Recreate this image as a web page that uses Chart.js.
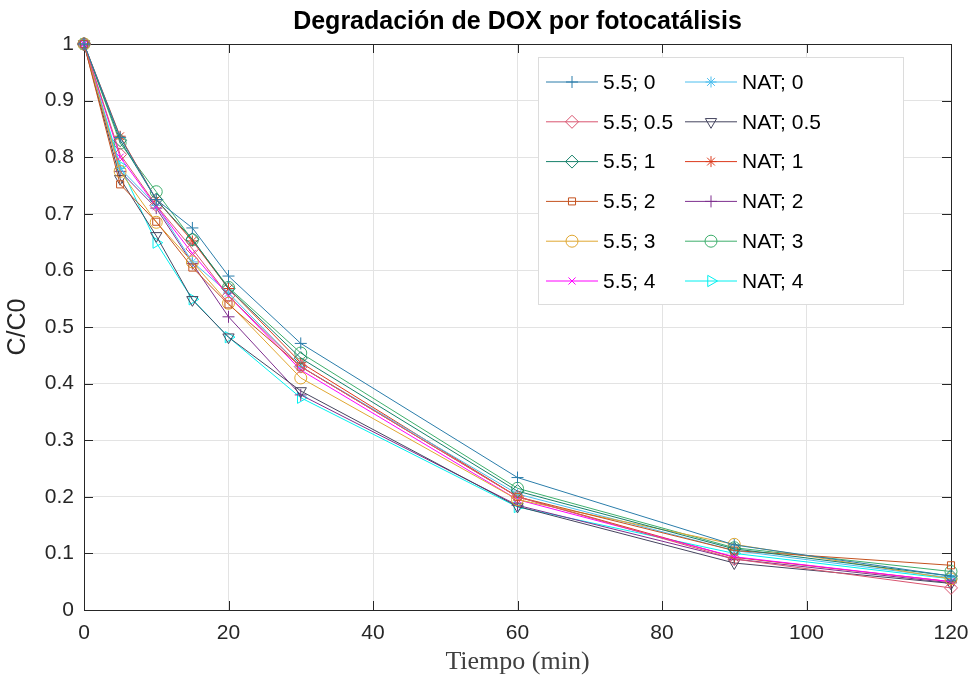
<!DOCTYPE html>
<html>
<head>
<meta charset="utf-8">
<script src="https://cdn.jsdelivr.net/npm/chart.js@4.4.1/dist/chart.umd.min.js"></script>
<style>
html,body{margin:0;padding:0;background:#fff;}
#wrap{width:970px;height:679px;}
</style>
</head>
<body>
<div id="wrap"><canvas id="c" width="970" height="679"></canvas></div>
<script>
const tiempo = [0, 5, 10, 15, 20, 30, 60, 90, 120];
const xTicks = [0, 20, 40, 60, 80, 100, 120];
const yTicks = [0, 0.1, 0.2, 0.3, 0.4, 0.5, 0.6, 0.7, 0.8, 0.9, 1];

const s55_0   = [1, 0.835, 0.725, 0.675, 0.590, 0.471, 0.234, 0.115, 0.060];
const s55_05  = [1, 0.805, 0.715, 0.638, 0.555, 0.430, 0.200, 0.090, 0.039];
const s55_1   = [1, 0.830, 0.725, 0.655, 0.568, 0.445, 0.210, 0.108, 0.060];
const s55_2   = [1, 0.752, 0.686, 0.605, 0.540, 0.430, 0.200, 0.105, 0.079];
const s55_3   = [1, 0.775, 0.685, 0.615, 0.542, 0.410, 0.195, 0.116, 0.055];
const s55_4   = [1, 0.800, 0.713, 0.630, 0.555, 0.424, 0.195, 0.094, 0.050];
const nat_0   = [1, 0.780, 0.715, 0.615, 0.560, 0.430, 0.205, 0.105, 0.057];
const nat_05  = [1, 0.762, 0.661, 0.548, 0.482, 0.387, 0.183, 0.083, 0.047];
const nat_1   = [1, 0.837, 0.725, 0.652, 0.568, 0.437, 0.200, 0.093, 0.050];
const nat_2   = [1, 0.775, 0.710, 0.612, 0.518, 0.380, 0.185, 0.090, 0.048];
const nat_3   = [1, 0.825, 0.739, 0.654, 0.570, 0.454, 0.215, 0.110, 0.068];
const nat_4   = [1, 0.785, 0.649, 0.549, 0.482, 0.375, 0.182, 0.100, 0.055];

const labels = ['5.5; 0','5.5; 0.5','5.5; 1','5.5; 2','5.5; 3','5.5; 4','NAT; 0','NAT; 0.5','NAT; 1','NAT; 2','NAT; 3','NAT; 4'];
const values = [s55_0, s55_05, s55_1, s55_2, s55_3, s55_4, nat_0, nat_05, nat_1, nat_2, nat_3, nat_4];
const colors = ['#2A7DAA','#D9546F','#17806A','#C4521F','#E0A731','#FF00FF','#4DBEEE','#45455F','#DC3A1C','#7E2F8E','#3DAE6C','#00F0F0'];
const styles = ['cross','rectRot','rectRot','rect','circle','crossRot','star','triangle','star','cross','circle','triangle'];
const rotations = [0,0,0,0,0,0,0,180,0,0,0,90];
const radii = [6,6.5,6.5,5,6,5,5.5,6.5,5.5,6,6,6.5];

const FONT = '"Liberation Sans", Arial, Helvetica, sans-serif';

const datasets = labels.map((lab, i) => ({
  label: lab,
  data: tiempo.map((t, j) => ({x: t, y: values[i][j]})),
  borderColor: colors[i],
  backgroundColor: colors[i],
  borderWidth: 1,
  pointStyle: styles[i],
  pointRotation: rotations[i],
  pointRadius: radii[i],
  pointHoverRadius: radii[i],
  pointBorderColor: colors[i],
  pointBackgroundColor: 'rgba(0,0,0,0)',
  pointBorderWidth: 1,
  fill: false,
  tension: 0,
  clip: false
}));

function drawMarker(ctx, style, rot, r, x, y) {
  if (Chart.helpers && Chart.helpers.drawPoint) {
    Chart.helpers.drawPoint(ctx, {pointStyle: style, rotation: rot, radius: r, borderWidth: 1}, x, y);
  } else {
    ctx.beginPath(); ctx.arc(x, y, r, 0, Math.PI*2); ctx.stroke();
  }
}

const boxPlugin = {
  id: 'boxPlugin',
  beforeDatasetsDraw(chart) {
    const {ctx, chartArea: a, scales} = chart;
    ctx.save();
    ctx.strokeStyle = '#262626';
    ctx.lineWidth = 1;
    ctx.strokeRect(Math.round(a.left)+0.5, Math.round(a.top)+0.5, Math.round(a.right-a.left), Math.round(a.bottom-a.top));
    const L = 9;
    ctx.beginPath();
    xTicks.forEach(v => {
      const px = Math.round(scales.x.getPixelForValue(v)) + 0.5;
      ctx.moveTo(px, a.bottom); ctx.lineTo(px, a.bottom - L);
      ctx.moveTo(px, a.top); ctx.lineTo(px, a.top + L);
    });
    yTicks.forEach(v => {
      const py = Math.round(scales.y.getPixelForValue(v)) + 0.5;
      ctx.moveTo(a.left, py); ctx.lineTo(a.left + L, py);
      ctx.moveTo(a.right, py); ctx.lineTo(a.right - L, py);
    });
    ctx.stroke();
    ctx.restore();
  },
  afterDraw(chart) {
    const ctx = chart.ctx;
    const bx = 538.5, by = 57.5, bw = 365, bh = 247;
    ctx.save();
    ctx.fillStyle = '#ffffff';
    ctx.fillRect(bx, by, bw, bh);
    ctx.strokeStyle = '#dcdcdc';
    ctx.lineWidth = 1;
    ctx.strokeRect(bx, by, bw, bh);
    ctx.font = '21px ' + FONT;
    ctx.textBaseline = 'middle';
    ctx.textAlign = 'left';
    chart.data.datasets.forEach((ds, i) => {
      const col = i < 6 ? 0 : 1;
      const row = i % 6;
      const x0 = col === 0 ? 546 : 685;
      const y = 82 + row * 39.8;
      ctx.strokeStyle = ds.borderColor;
      ctx.lineWidth = 1;
      ctx.beginPath();
      ctx.moveTo(x0, y); ctx.lineTo(x0 + 52, y);
      ctx.stroke();
      ctx.fillStyle = 'rgba(0,0,0,0)';
      drawMarker(ctx, ds.pointStyle, ds.pointRotation, ds.pointRadius, x0 + 26, y);
      ctx.fillStyle = '#000000';
      ctx.fillText(ds.label, x0 + 57, y + 1);
    });
    ctx.restore();
  }
};

new Chart(document.getElementById('c'), {
  type: 'line',
  data: { datasets },
  options: {
    responsive: false,
    animation: false,
    devicePixelRatio: 1,
    layout: { padding: { left: 0, right: 19, top: 0, bottom: 0 } },
    plugins: {
      legend: { display: false },
      tooltip: { enabled: false },
      title: {
        display: true,
        text: 'Degradación de DOX por fotocatálisis',
        fullSize: false,
        color: '#000000',
        font: { family: FONT, size: 25, weight: 'bold' },
        padding: { top: 7, bottom: 7 }
      }
    },
    scales: {
      x: {
        type: 'linear',
        min: 0, max: 120,
        afterFit(s) { s.height = 69; s.paddingRight = 0; s.paddingLeft = 0; },
        afterBuildTicks(s) { s.ticks = xTicks.map(v => ({value: v})); },
        ticks: { color: '#262626', font: { family: FONT, size: 21 }, padding: 11, maxRotation: 0 },
        grid: { color: '#e3e3e3', drawTicks: false },
        border: { display: false },
        title: {
          display: true,
          text: 'Tiempo (min)',
          color: '#404040',
          font: { family: '"Liberation Serif", "Times New Roman", serif', size: 26 },
          padding: { top: 0, bottom: 1 }
        }
      },
      y: {
        type: 'linear',
        min: 0, max: 1,
        afterFit(s) { s.width = 84; s.paddingTop = 0; s.paddingBottom = 0; },
        afterBuildTicks(s) { s.ticks = yTicks.map(v => ({value: v})); },
        ticks: {
          color: '#262626', font: { family: FONT, size: 21 }, padding: 10,
          callback: v => String(Math.round(v * 10) / 10)
        },
        grid: { color: '#e3e3e3', drawTicks: false },
        border: { display: false },
        title: {
          display: true,
          text: 'C/C0',
          color: '#262626',
          font: { family: FONT, size: 25 },
          padding: { top: 3, bottom: 0 }
        }
      }
    }
  },
  plugins: [boxPlugin]
});
</script>
</body>
</html>
